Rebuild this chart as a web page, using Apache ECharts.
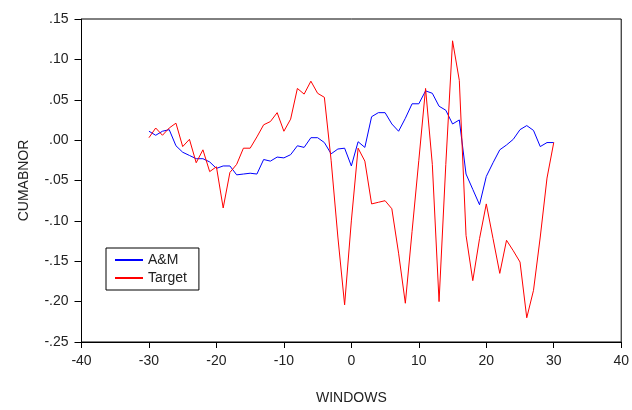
<!DOCTYPE html>
<html>
<head>
<meta charset="utf-8">
<script src="https://cdn.jsdelivr.net/npm/echarts@6/dist/echarts.min.js"></script>
<style>
html,body{margin:0;padding:0;background:#fff;}
#chart{width:632px;height:410px;}
</style>
</head>
<body>
<div id="chart"></div>
<script>
var windows = [-30,-29,-28,-27,-26,-25,-24,-23,-22,-21,-20,-19,-18,-17,-16,-15,-14,-13,-12,-11,-10,-9,-8,-7,-6,-5,-4,-3,-2,-1,0,1,2,3,4,5,6,7,8,9,10,11,12,13,14,15,16,17,18,19,20,21,22,23,24,25,26,27,28,29,30];
var amValues = [0.011,0.006,0.011,0.013,-0.007,-0.015,-0.019,-0.023,-0.023,-0.027,-0.035,-0.032,-0.032,-0.043,-0.042,-0.041,-0.042,-0.024,-0.026,-0.021,-0.022,-0.018,-0.007,-0.009,0.003,0.003,-0.003,-0.017,-0.011,-0.010,-0.032,-0.002,-0.009,0.029,0.034,0.034,0.020,0.011,0.027,0.045,0.045,0.061,0.058,0.042,0.037,0.020,0.025,-0.042,-0.061,-0.080,-0.045,-0.028,-0.012,-0.006,0.001,0.013,0.018,0.012,-0.008,-0.003,-0.003];
var targetValues = [0.003,0.015,0.006,0.015,0.021,-0.008,0.001,-0.028,-0.012,-0.039,-0.033,-0.084,-0.040,-0.030,-0.010,-0.010,0.004,0.019,0.023,0.034,0.011,0.026,0.064,0.057,0.073,0.058,0.053,-0.025,-0.120,-0.204,-0.100,-0.010,-0.026,-0.079,-0.077,-0.075,-0.085,-0.140,-0.202,-0.113,-0.025,0.064,-0.030,-0.200,-0.030,0.123,0.074,-0.118,-0.174,-0.122,-0.079,-0.122,-0.165,-0.124,-0.137,-0.151,-0.220,-0.186,-0.120,-0.047,-0.003];
var seriesNames = ['A&M','Target'];
var xTitle = 'WINDOWS';
var yTitle = 'CUMABNOR';

function pairs(vals){ return windows.map(function(w,i){ return [w, vals[i]]; }); }
var font = 'Arial, "Liberation Sans", sans-serif';
var chart = echarts.init(document.getElementById('chart'));
chart.setOption({
  animation:false,
  backgroundColor:'#fff',
  grid:{left:81.5,right:7,top:19,bottom:65,show:true,borderColor:'#000',borderWidth:1},
  xAxis:{
    type:'value',min:-40,max:40,interval:10,
    name:xTitle,nameLocation:'middle',nameGap:49,
    nameTextStyle:{fontFamily:font,fontSize:14,color:'#222'},
    axisLine:{onZero:false,lineStyle:{color:'#000',width:1}},
    axisTick:{show:true,inside:false,length:6,lineStyle:{color:'#000'}},
    axisLabel:{fontFamily:font,fontSize:14,color:'#222',margin:12},
    splitLine:{show:false}
  },
  yAxis:{
    type:'value',min:-0.25,max:0.15,interval:0.05,
    name:yTitle,nameLocation:'middle',nameGap:50,nameRotate:90,
    nameTextStyle:{fontFamily:font,fontSize:14,color:'#222'},
    axisLine:{show:true,onZero:false,lineStyle:{color:'#000',width:1}},
    axisTick:{show:true,inside:false,length:7,lineStyle:{color:'#000'}},
    axisLabel:{fontFamily:font,fontSize:14,color:'#222',margin:13,
      formatter:function(v){ var s=(Math.round(v*100)/100).toFixed(2); return s.replace('0.','.'); }},
    splitLine:{show:false}
  },
  legend:{
    orient:'vertical',left:106,top:248,
    padding:[5,12,5,9],itemGap:4,itemWidth:28,itemHeight:2,
    backgroundColor:'#fff',borderColor:'#000',borderWidth:1,
    icon:'rect',
    textStyle:{fontFamily:font,fontSize:14,color:'#222'},
    data:seriesNames
  },
  series:[
    {name:seriesNames[0],type:'line',data:pairs(amValues),showSymbol:false,symbol:'none',
     lineStyle:{color:'#0000ff',width:1},itemStyle:{color:'#0000ff'}},
    {name:seriesNames[1],type:'line',data:pairs(targetValues),showSymbol:false,symbol:'none',
     lineStyle:{color:'#ff0000',width:1},itemStyle:{color:'#ff0000'}}
  ]
});
</script>
</body>
</html>
